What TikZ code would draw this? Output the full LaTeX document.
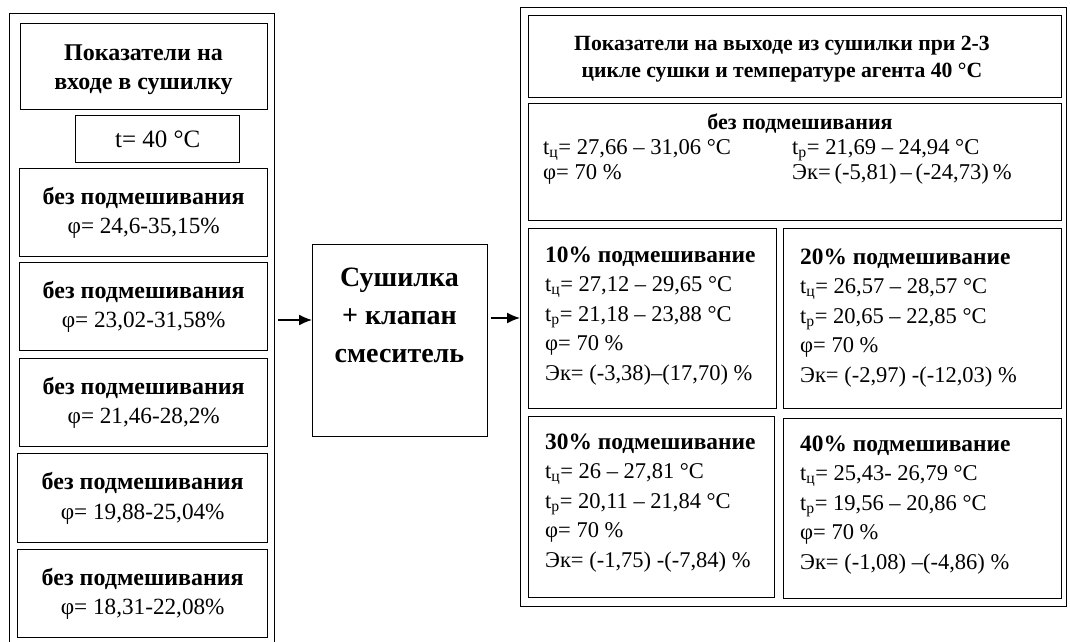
\documentclass[tikz,border=0pt]{standalone}
\usepackage{fontspec}
\setmainfont{Liberation Serif}
\usetikzlibrary{arrows.meta}
\newcommand\lb[1]{{\bfseries\fontsize{24}{29.5}\selectfont #1}}
\newcommand\rb[1]{{\bfseries\fontsize{23.4}{29.5}\selectfont #1}}
\begin{document}
\begin{tikzpicture}[x=1pt,y=-1pt,
  box/.style={draw, line width=1.4pt, inner sep=0pt, anchor=north west},
  lbox/.style={box, minimum width=#1, minimum height=88pt, align=center,
    font=\fontsize{23.2}{29.5}\selectfont},
  txt/.style={inner sep=0pt, align=left, anchor=north west,
    font=\fontsize{22.5}{29.5}\selectfont},
  ttl/.style={inner sep=0pt, align=center, anchor=north},
  arr/.style={line width=1.4pt, shorten <=3pt, -{Latex[length=13pt,width=11pt]}}]
\useasboundingbox (0,0) rectangle (1070,642);
\fill[white] (0,0) rectangle (1070,642);
\clip (0,0) rectangle (1070,642);

% ---------- left column ----------
\node[box, minimum width=265pt, minimum height=650pt] (Lout) at (9,13) {};
\node[box, minimum width=247pt, minimum height=86pt] (Ltitle) at (20,23) {};
\node[ttl, font=\bfseries\fontsize{24}{29}\selectfont] (LtitleT) at (143.5,39.7) {\strut Показатели на\\входе в сушилку};
\node[box, minimum width=164pt, minimum height=47pt, font=\fontsize{25}{29}\selectfont] (tbox) at (75,115) {t= 40 °C};
\node[lbox=248pt] (b1) at (19,168) {\lb{без подмешивания}\\φ= 24,6-35,15\%};
\node[lbox=248pt] (b2) at (19,262) {\lb{без подмешивания}\\φ= 23,02-31,58\%};
\node[lbox=248pt] (b3) at (19,358) {\lb{без подмешивания}\\φ= 21,46-28,2\%};
\node[lbox=250pt, minimum height=89pt] (b4) at (17,453) {\lb{без подмешивания}\\φ= 19,88-25,04\%};
\node[lbox=250pt] (b5) at (17,549) {\lb{без подмешивания}\\φ= 18,31-22,08\%};

% ---------- middle ----------
\node[box, minimum width=175pt, minimum height=192pt] (mid) at (312,244) {};
\node[inner sep=0pt, align=center, anchor=north, font=\bfseries\fontsize{28}{38}\selectfont] (midT) at (399.5,259.4) {\strut Сушилка\\+ клапан\\смеситель};

% ---------- right column ----------
\node[box, minimum width=546pt, minimum height=599pt] (Rout) at (520,7) {};
\node[box, minimum width=533pt, minimum height=82pt] (Rtitle) at (528,15) {};
\node[ttl, font=\bfseries\fontsize{21.7}{27}\selectfont] (RtitleT) at (782,31.1) {\strut Показатели на выходе из сушилки при 2-3\\цикле сушки и температуре агента 40 °C};

\node[box, minimum width=533pt, minimum height=117pt] (r0) at (528,103) {};
\node[ttl, font=\bfseries\fontsize{22}{25}\selectfont] (r0T) at (800,112) {\strut без подмешивания};
\node[txt, font=\fontsize{22.6}{25}\selectfont] (r0a) at (543,137) {\strut t\textsubscript{ц}= 27,66 – 31,06 °C\\φ= 70 \%};
\node[txt, font=\fontsize{22.6}{25}\selectfont] (r0b) at (792,137) {\strut t\textsubscript{р}= 21,69 – 24,94 °C\\Эк=\,(-5,81)\,–\,(-24,73)\,\%};

\node[box, minimum width=248pt, minimum height=180pt] (r1) at (528,228) {};
\node[txt] (r1T) at (545,241.4) {\strut\rb{10\% подмешивание}\\t\textsubscript{ц}= 27,12 – 29,65 °C\\t\textsubscript{р}= 21,18 – 23,88 °C\\φ= 70 \%\\Эк= (-3,38)–(17,70) \%};

\node[box, minimum width=278pt, minimum height=180pt] (r2) at (783,228) {};
\node[txt] (r2T) at (800,243.4) {\strut\rb{20\% подмешивание}\\t\textsubscript{ц}= 26,57 – 28,57 °C\\t\textsubscript{р}= 20,65 – 22,85 °C\\φ= 70 \%\\Эк= (-2,97) -(-12,03) \%};

\node[box, minimum width=246pt, minimum height=181pt] (r3) at (528,416) {};
\node[txt] (r3T) at (545,428.5) {\strut\rb{30\% подмешивание}\\t\textsubscript{ц}= 26 – 27,81 °C\\t\textsubscript{р}= 20,11 – 21,84 °C\\φ= 70 \%\\Эк= (-1,75) -(-7,84) \%};

\node[box, minimum width=278pt, minimum height=180pt] (r4) at (783,418) {};
\node[txt] (r4T) at (800,430.5) {\strut\rb{40\% подмешивание}\\t\textsubscript{ц}= 25,43- 26,79 °C\\t\textsubscript{р}= 19,56 – 20,86 °C\\φ= 70 \%\\Эк= (-1,08) –(-4,86) \%};

% ---------- arrows ----------
\coordinate (aL) at (0,320);
\coordinate (aR) at (0,318);
\draw[arr] (Lout.east |- aL) -- (mid.west |- aL);
\draw[arr] (mid.east |- aR) -- (Rout.west |- aR);
\end{tikzpicture}
\end{document}
